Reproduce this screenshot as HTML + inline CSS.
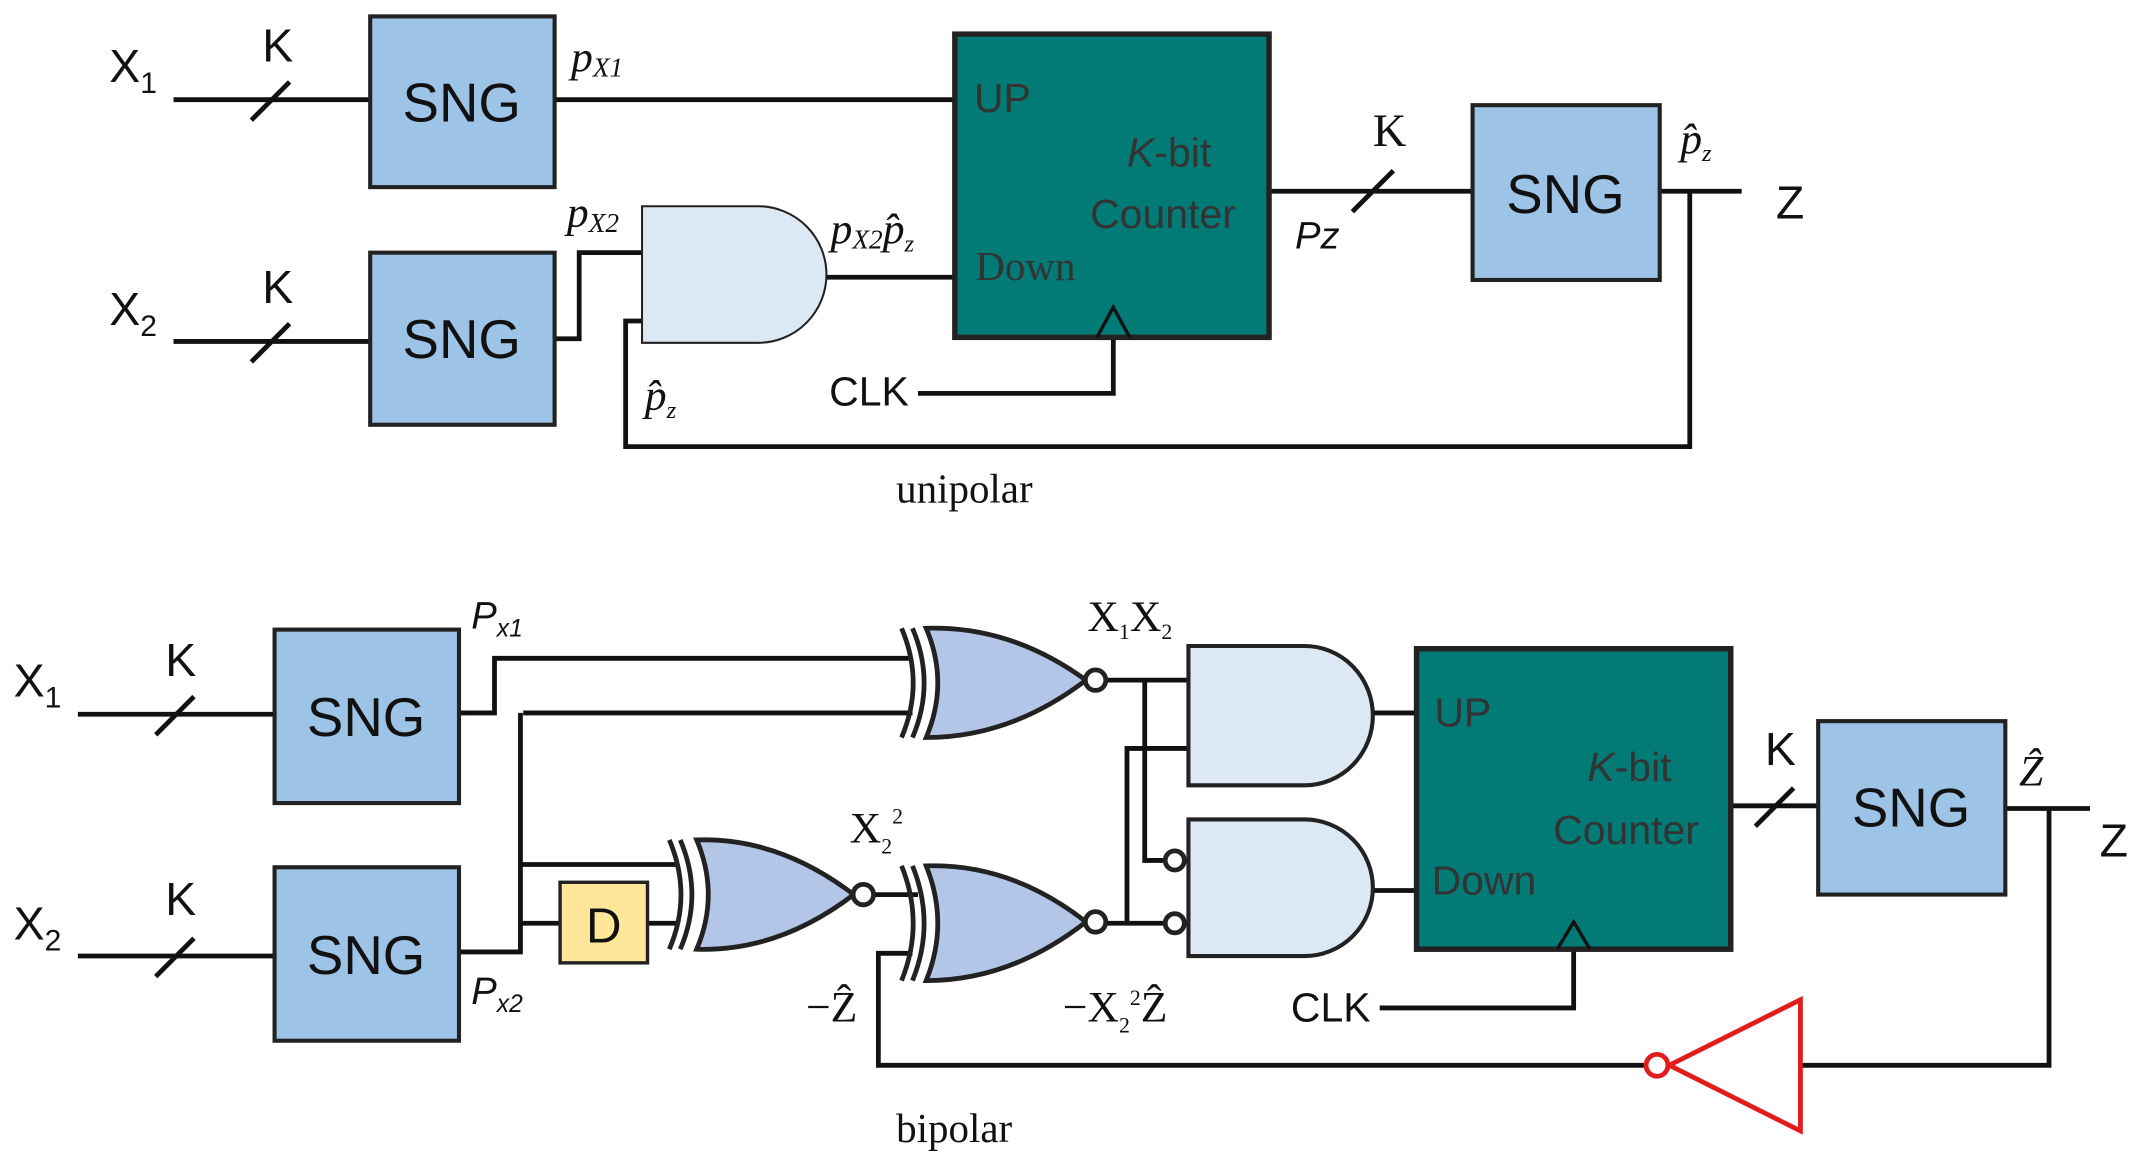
<!DOCTYPE html>
<html><head><meta charset="utf-8"><style>html,body{margin:0;padding:0;background:#fff}svg{display:block}</style></head><body>
<svg width="2131" height="1165" viewBox="0 0 1560 853" preserveAspectRatio="none" xmlns="http://www.w3.org/2000/svg" font-family="Liberation Sans, sans-serif">
<g stroke="#111" stroke-width="3.5" fill="none">
<!-- top -->
<line x1="127" y1="73" x2="271" y2="73"/><line x1="184" y1="88" x2="212" y2="60"/>
<line x1="406" y1="73" x2="699" y2="73"/>
<line x1="127" y1="250" x2="271" y2="250"/><line x1="184" y1="265" x2="212" y2="237"/>
<polyline points="406,248 424,248 424,185 470,185"/>
<line x1="605" y1="203" x2="699" y2="203"/>
<polyline points="470,235 458,235 458,327 1237,327 1237,140"/>
<polyline points="815,247 815,288 672,288"/>
<line x1="929" y1="140" x2="1078" y2="140"/><line x1="990" y1="155" x2="1020" y2="125"/>
<line x1="1215" y1="140" x2="1275" y2="140"/>
<!-- bottom -->
<line x1="57" y1="523" x2="201" y2="523"/><line x1="114" y1="538" x2="142" y2="510"/>
<line x1="57" y1="700" x2="201" y2="700"/><line x1="114" y1="715" x2="142" y2="687"/>
<polyline points="336,522 362,522 362,482 668,482"/>
<polyline points="383,522 668,522"/>
<polyline points="336,697 381,697 381,522"/>
<line x1="381" y1="633" x2="495" y2="633"/>
<line x1="381" y1="676" x2="410" y2="676"/>
<line x1="474" y1="676" x2="497" y2="676"/>
<line x1="640" y1="655" x2="672" y2="655"/>
<polyline points="668,698 643,698 643,780 1205,780"/>
<polyline points="1318,780 1500,780 1500,592"/>
<line x1="1468" y1="592" x2="1530" y2="592"/>
<polyline points="810,498 870,498"/>
<polyline points="838,498 838,630 852,630"/>
<polyline points="870,548 825,548 825,676"/>
<line x1="810" y1="676" x2="852" y2="676"/>
<line x1="1005" y1="522" x2="1037" y2="522"/>
<line x1="1005" y1="652" x2="1037" y2="652"/>
<polyline points="1152,695 1152,738 1010,738"/>
<line x1="1267" y1="590" x2="1331" y2="590"/><line x1="1285" y1="605" x2="1313" y2="577"/>
</g>
<!-- boxes -->
<g stroke="#222" stroke-width="3">
<rect x="271" y="12" width="135" height="125" fill="#9dc3e6"/>
<rect x="271" y="185" width="135" height="126" fill="#9dc3e6"/>
<rect x="1078" y="77" width="137" height="128" fill="#9dc3e6"/>
<rect x="699" y="25" width="230" height="222" fill="#027b77" stroke-width="4"/>
<rect x="201" y="461" width="135" height="127" fill="#9dc3e6"/>
<rect x="201" y="635" width="135" height="127" fill="#9dc3e6"/>
<rect x="1331" y="528" width="137" height="127" fill="#9dc3e6"/>
<rect x="1037" y="475" width="230" height="220" fill="#027b77" stroke-width="4"/>
<rect x="410" y="646" width="64" height="59" fill="#ffe699" stroke-width="2.5"/>
</g>
<g fill="none" stroke="#111" stroke-width="2.5">
<polyline points="803,247 815,225 827,247"/>
<polyline points="1140,695 1152,675 1164,695"/>
</g>
<!-- gates -->
<g stroke="#222" stroke-width="2.5">
<path d="M470,151 H555 A50,50 0 0 1 555,251 H470 Z" fill="#dde8f5" stroke-width="1.5"/>
<path d="M870,473 H955 A50,51 0 0 1 955,575 H870 Z" fill="#dde8f5" stroke-width="3"/>
<path d="M870,600 H955 A50,50 0 0 1 955,700 H870 Z" fill="#dde8f5" stroke-width="3"/>
<path d="M678,460 Q740,458 795,498 Q740,540 678,540 Q695,500 678,460 Z" fill="#b4c6e7" stroke-width="3.5"/>
<path d="M668,460 Q685,500 668,540" fill="none" stroke-width="3.5"/>
<path d="M660,460 Q677,500 660,540" fill="none" stroke-width="3.5"/>
<path d="M510,615 Q570,613 625,655 Q570,697 510,695 Q527,655 510,615 Z" fill="#b4c6e7" stroke-width="3.5"/>
<path d="M498,615 Q515,655 498,695" fill="none" stroke-width="3.5"/>
<path d="M490,615 Q507,655 490,695" fill="none" stroke-width="3.5"/>
<path d="M678,634 Q740,632 795,675 Q740,718 678,718 Q695,676 678,634 Z" fill="#b4c6e7" stroke-width="3.5"/>
<path d="M668,634 Q685,676 668,718" fill="none" stroke-width="3.5"/>
<path d="M660,634 Q677,676 660,718" fill="none" stroke-width="3.5"/>
<circle cx="802" cy="498" r="7.5" fill="#fff" stroke-width="3.5"/>
<circle cx="632" cy="655" r="7.5" fill="#fff" stroke-width="3.5"/>
<circle cx="802" cy="675" r="7.5" fill="#fff" stroke-width="3.5"/>
<circle cx="860" cy="630" r="7" fill="#fff" stroke-width="3.5"/>
<circle cx="860" cy="676" r="7" fill="#fff" stroke-width="3.5"/>
</g>
<g stroke="#e31b1b" stroke-width="3.5" fill="#fff">
<path d="M1222,780 L1318,732 V828 Z"/>
<circle cx="1213" cy="780" r="8"/>
</g>
<!-- text -->
<g fill="#111" font-size="40" text-anchor="middle">
<text x="338" y="89">SNG</text><text x="338" y="262">SNG</text><text x="1146" y="156">SNG</text>
<text x="268" y="539">SNG</text><text x="268" y="713">SNG</text><text x="1399" y="605">SNG</text>
<text x="442" y="690" font-size="36">D</text>
</g>
<g fill="#111" font-size="34">
<text x="80" y="60">X<tspan font-size="22" dy="8">1</tspan></text>
<text x="80" y="238">X<tspan font-size="22" dy="8">2</tspan></text>
<text x="10" y="510">X<tspan font-size="22" dy="8">1</tspan></text>
<text x="10" y="688">X<tspan font-size="22" dy="8">2</tspan></text>
<text x="192" y="45">K</text><text x="192" y="222">K</text>
<text x="121" y="495">K</text><text x="121" y="670">K</text>
<text x="1292" y="560">K</text>
<text x="1005" y="107" font-family="Liberation Serif, serif">K</text>
<text x="1300" y="160">Z</text><text x="1537" y="627">Z</text>
<text x="607" y="297" font-size="30">CLK</text><text x="945" y="748" font-size="30">CLK</text>
</g>
<g fill="#333" font-size="30">
<text x="713" y="82">UP</text>
<text x="825" y="122"><tspan font-style="italic">K</tspan>-bit</text>
<text x="798" y="167">Counter</text>
<text x="714" y="205" font-family="Liberation Serif, serif">Down</text>
<text x="1050" y="532">UP</text>
<text x="1162" y="572"><tspan font-style="italic">K</tspan>-bit</text>
<text x="1137" y="618">Counter</text>
<text x="1048" y="655">Down</text>
</g>
<g fill="#111" font-family="Liberation Serif, serif" font-size="32">
<text x="418" y="52" font-style="italic">p<tspan font-size="20" dy="4">X1</tspan></text>
<text x="415" y="166" font-style="italic">p<tspan font-size="20" dy="4">X2</tspan></text>
<text x="608" y="178" font-style="italic">p<tspan font-size="20" dy="4">X2</tspan><tspan dy="-4">p̂</tspan><tspan font-size="18" dy="6">z</tspan></text>
<text x="472" y="300" font-style="italic">p̂<tspan font-size="18" dy="6">z</tspan></text>
<text x="1230" y="112" font-style="italic">p̂<tspan font-size="18" dy="6">z</tspan></text>
<text x="656" y="368" font-size="30">unipolar</text>
<text x="656" y="836" font-size="30">bipolar</text>
<text x="796" y="462">X<tspan font-size="16" dy="6">1</tspan><tspan dy="-6">X</tspan><tspan font-size="16" dy="6">2</tspan></text>
<text x="622" y="617">X<tspan font-size="16" dy="8">2</tspan><tspan font-size="16" dy="-22">2</tspan></text>
<text x="778" y="748">−X<tspan font-size="16" dy="8">2</tspan><tspan font-size="16" dy="-20">2</tspan><tspan dy="12">Ẑ</tspan></text>
<text x="590" y="748">−Ẑ</text>
<text x="1478" y="575" font-style="italic">Ẑ</text>
</g>
<g fill="#111" font-size="28" font-style="italic">
<text x="948" y="182">Pz</text>
<text x="345" y="460">P<tspan font-size="18" dy="6">x1</tspan></text>
<text x="345" y="735">P<tspan font-size="18" dy="6">x2</tspan></text>
</g>
</svg>
</body></html>
